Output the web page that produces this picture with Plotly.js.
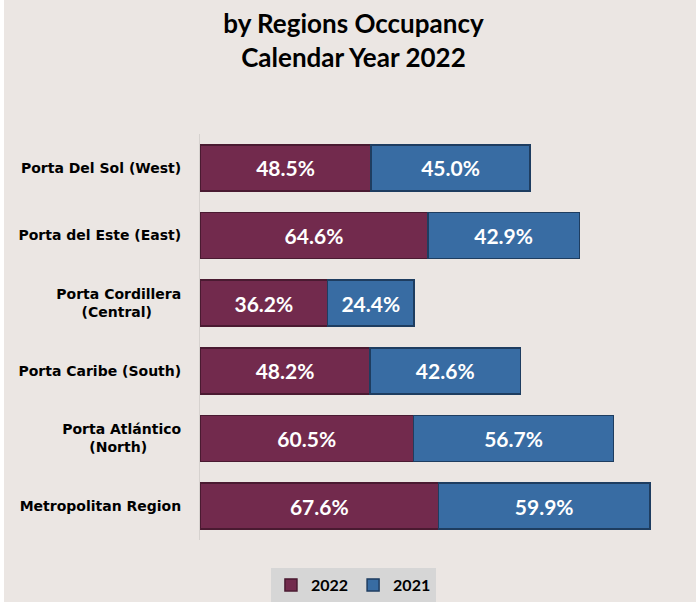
<!DOCTYPE html>
<html>
<head>
<meta charset="utf-8">
<script src="https://cdn.plot.ly/plotly-3.0.1.min.js"></script>
<style>
html,body{margin:0;padding:0;background:#ffffff;width:696px;height:602px;overflow:hidden;}
#chart{position:absolute;left:4px;top:0;width:692px;height:602px;}
</style>
</head>
<body>
<div id="chart"></div>
<script>
const regions = [
  "Porta Del Sol (West)",
  "Porta del Este (East)",
  "Porta Cordillera (Central)",
  "Porta Caribe (South)",
  "Porta Atlántico (North)",
  "Metropolitan Region"
];
const NB = "\u00a0";
const tickLabels = [
  "Porta Del Sol (West)",
  "Porta del Este (East)",
  "Porta Cordillera<br>(Central)" + NB.repeat(6),
  "Porta Caribe (South)",
  "Porta Atlántico<br>(North)" + NB.repeat(7),
  "Metropolitan Region"
];
const values2022 = [48.5, 64.6, 36.2, 48.2, 60.5, 67.6];
const values2021 = [45.0, 42.9, 24.4, 42.6, 56.7, 59.9];
const seriesNames = ["2022", "2021"];

const textFont = {family: "Lato, sans-serif", size: 21, color: "#ffffff", weight: "bold"};

const traces = [
  {
    type: "bar", orientation: "h", name: seriesNames[0],
    y: regions, x: values2022,
    marker: {color: "#722A4D", line: {color: "#4A1A31", width: 1.5}},
    texttemplate: "<b>%{x:.1f}%</b>", textposition: "inside", insidetextanchor: "middle",
    textfont: textFont, hoverinfo: "skip"
  },
  {
    type: "bar", orientation: "h", name: seriesNames[1],
    y: regions, x: values2021,
    marker: {color: "#386CA3", line: {color: "#1E3D60", width: 1.5}},
    texttemplate: "<b>%{x:.1f}%</b>", textposition: "inside", insidetextanchor: "middle",
    textfont: textFont, hoverinfo: "skip"
  }
];

const layout = {
  width: 692, height: 602,
  paper_bgcolor: "#EBE6E3", plot_bgcolor: "#EBE6E3",
  margin: {l: 196, r: 2, t: 134, b: 62, pad: 0},
  barmode: "stack", bargap: 0.32,
  showlegend: true,
  title: {
    text: "<b>by Regions Occupancy<br>Calendar Year 2022</b>",
    font: {family: "Lato, sans-serif", size: 26, color: "#000000"},
    xref: "container", x: 0.505, xanchor: "center",
    yref: "container", y: 0.945, yanchor: "middle"
  },
  xaxis: {range: [0, 140], visible: false, fixedrange: true},
  yaxis: {
    autorange: "reversed", type: "category",
    tickmode: "array", tickvals: regions, ticktext: tickLabels,
    showline: true, linecolor: "#D6D2CF", linewidth: 1,
    ticks: "outside", ticklen: 15, tickcolor: "rgba(0,0,0,0)",
    tickfont: {family: "DejaVu Sans, sans-serif", size: 14, color: "#000000", weight: "bold"},
    showgrid: false, zeroline: false, fixedrange: true
  },
  legend: {
    orientation: "h", traceorder: "normal",
    xref: "container", x: 0.505, xanchor: "center",
    yref: "container", y: 0, yanchor: "bottom",
    bgcolor: "#D6D6D6",
    font: {family: "Lato, sans-serif", size: 16, color: "#000000", weight: "bold"},
    itemwidth: 30, entrywidth: 0
  }
};

Plotly.newPlot("chart", traces, layout, {displayModeBar: false, staticPlot: true});
</script>
</body>
</html>
